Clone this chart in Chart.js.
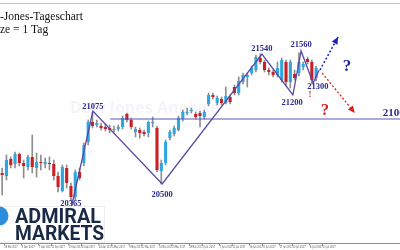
<!DOCTYPE html>
<html><head><meta charset="utf-8">
<script src="https://cdn.jsdelivr.net/npm/chart.js@4.4.1/dist/chart.umd.min.js"></script>
<style>html,body{margin:0;padding:0;background:#fff;overflow:hidden}canvas{display:block}</style>
</head><body>
<canvas id="c" width="400" height="250"></canvas>
<script>
const categories = [
"27 Mar 2017","28 Mar 2017","29 Mar 2017","30 Mar 2017","31 Mar 2017",
"3 Apr 2017","4 Apr 2017","5 Apr 2017","6 Apr 2017","7 Apr 2017",
"10 Apr 2017","11 Apr 2017","12 Apr 2017","13 Apr 2017",
"17 Apr 2017","18 Apr 2017","19 Apr 2017","20 Apr 2017","21 Apr 2017",
"24 Apr 2017","25 Apr 2017","26 Apr 2017","27 Apr 2017","28 Apr 2017",
"1 May 2017","2 May 2017","3 May 2017","4 May 2017","5 May 2017",
"8 May 2017","9 May 2017","10 May 2017","11 May 2017","12 May 2017",
"15 May 2017","16 May 2017","17 May 2017","18 May 2017","19 May 2017",
"22 May 2017","23 May 2017","24 May 2017","25 May 2017","26 May 2017",
"29 May 2017","30 May 2017","31 May 2017","1 Jun 2017","2 Jun 2017",
"5 Jun 2017","6 Jun 2017","7 Jun 2017","8 Jun 2017","9 Jun 2017",
"12 Jun 2017","13 Jun 2017","14 Jun 2017","15 Jun 2017","16 Jun 2017",
"19 Jun 2017","20 Jun 2017","21 Jun 2017","22 Jun 2017","23 Jun 2017",
"26 Jun 2017","27 Jun 2017","28 Jun 2017","29 Jun 2017","30 Jun 2017",
"3 Jul 2017","4 Jul 2017","5 Jul 2017","6 Jul 2017","7 Jul 2017",
"10 Jul 2017","11 Jul 2017","12 Jul 2017","13 Jul 2017","14 Jul 2017",
"17 Jul 2017","18 Jul 2017","19 Jul 2017","20 Jul 2017","21 Jul 2017",
"24 Jul 2017","25 Jul 2017","26 Jul 2017","27 Jul 2017","28 Jul 2017",
"31 Jul 2017","1 Aug 2017","2 Aug 2017","3 Aug 2017"];

const opens = [20588,20564,20700,20660,20740,20668,20636,20716,20628,20676,
20660,20668,20660,20564,20444,20628,20484,20396,20596,20668,
20836,20996,20972,20964,20956,20948,20932,20940,20956,21060,
21012,20916,20932,20916,20908,20988,20948,20604,20668,20868,
20900,20932,21020,21068,21084,21060,21068,21036,21140,21212,
21148,21180,21148,21196,21276,21228,21316,21356,21388,21412,
21508,21476,21412,21396,21372,21332,21476,21316,21380,21388,
21436,21500,21476,21348];
const highs = [20628,20732,20716,20756,20748,20692,20732,20892,20748,20732,
20708,20716,20692,20596,20652,20652,20508,20612,20628,20828,
21012,21075,21012,20988,20980,20972,20964,20972,21044,21068,
21028,20956,20948,20932,21004,21036,20964,20692,20852,20932,
20964,21044,21092,21108,21108,21076,21084,21092,21228,21228,
21204,21196,21276,21212,21292,21356,21388,21388,21444,21532,
21540,21492,21428,21412,21476,21508,21492,21492,21412,21550,
21476,21516,21492,21444];
const lows = [20412,20532,20628,20628,20644,20548,20612,20588,20556,20612,
20628,20612,20532,20436,20436,20468,20365,20372,20532,20644,
20812,20948,20956,20932,20924,20908,20916,20924,20940,20996,
20940,20876,20868,20884,20876,20956,20596,20500,20652,20852,
20884,20924,21004,21052,21068,21020,20956,21020,21124,21180,
21132,21132,21140,21140,21212,21212,21300,21276,21372,21396,
21460,21396,21372,21356,21356,21316,21284,21268,21332,21364,
21412,21460,21300,21324];
const closes = [20572,20692,20652,20740,20668,20644,20716,20636,20676,20668,
20676,20660,20564,20476,20636,20508,20396,20596,20548,20812,
20996,20964,20988,20948,20940,20932,20940,20956,21028,21012,
20956,20940,20908,20900,20996,20996,20612,20668,20836,20916,
20948,21028,21076,21076,21092,21036,21044,21076,21212,21196,
21188,21148,21204,21156,21228,21324,21372,21372,21428,21516,
21476,21412,21396,21372,21428,21492,21316,21476,21348,21476,
21460,21476,21332,21428];

const tickIndex = [1,5,9,12,16,19,23,26,30,33,37,40,44,47,51,54,58,61,65,68,72,75];

// annotation lines (x in category-index units)
const zigX = [16.2, 21.1, 37.2, 60.4, 67.6, 69.5, 72.3, 73.7];
const zigY = [20332, 21084, 20500, 21540, 21212, 21564, 21308, 21412];
const levelX = [25.1, 92.5];
const levelY = [21020, 21020];
const upArrowX = [73.9, 78.1];
const upArrowY = [21412, 21676];
const downArrowX = [74.4, 82.0];
const downArrowY = [21388, 21068];

const labelText = ["21075","20500","20365","21540","21560","21200","21300"];
const labelX = [21.1, 37.2, 16.0, 60.4, 69.5, 67.4, 73.4];
const labelY = [21116, 20412, 20340, 21580, 21612, 21148, 21276];

const UP = '#2ea6de', DOWN = '#c81e24', WICK = '#8e8e8e';
const pts = (xs, ys) => xs.map((x, i) => ({x: x, y: ys[i]}));

const decor = {
  id: 'decor',
  beforeDatasetsDraw(chart) {
    const ctx = chart.ctx;
    ctx.save();
    ctx.fillStyle = 'rgba(200,200,222,0.18)';
    ctx.font = 'bold 16px "Open Sans", sans-serif';
    ctx.textBaseline = 'alphabetic';
    ctx.fillText('Dow Jones Analyse', 70, 113);
    ctx.restore();
  },
  afterDatasetsDraw(chart) {
    const ctx = chart.ctx;
    const xs = chart.scales.x2, ys = chart.scales.y, xc = chart.scales.x;
    ctx.save();
    chart.data.datasets.forEach((ds, di) => {
      if (!ds.arrowHead) return;
      const meta = chart.getDatasetMeta(di);
      const p1 = meta.data[meta.data.length - 2], p2 = meta.data[meta.data.length - 1];
      const a = Math.atan2(p2.y - p1.y, p2.x - p1.x);
      const L = 7, W = 3.2;
      ctx.fillStyle = ds.borderColor;
      ctx.beginPath();
      ctx.moveTo(p2.x, p2.y);
      ctx.lineTo(p2.x - L * Math.cos(a) + W * Math.sin(a), p2.y - L * Math.sin(a) - W * Math.cos(a));
      ctx.lineTo(p2.x - L * Math.cos(a) - W * Math.sin(a), p2.y - L * Math.sin(a) + W * Math.cos(a));
      ctx.closePath();
      ctx.fill();
    });
    ctx.strokeStyle = '#c4c4c4';
    ctx.lineWidth = 1;
    ctx.beginPath(); ctx.moveTo(0, 3.5); ctx.lineTo(400, 3.5); ctx.stroke();
    // bottom axis line and date labels (positions from the category scale)
    const bottom = Math.round(chart.chartArea.bottom) + 0.5;
    ctx.strokeStyle = '#8c8c8c';
    ctx.beginPath(); ctx.moveTo(0, bottom); ctx.lineTo(400, bottom); ctx.stroke();
    ctx.fillStyle = '#555';
    ctx.font = '4px "DejaVu Sans", sans-serif';
    ctx.textAlign = 'left';
    ctx.textBaseline = 'top';
    tickIndex.forEach(i => {
      const px = xc.getPixelForValue(i);
      ctx.fillText(categories[i], px - 2, bottom + 1.5, 13);
      ctx.fillRect(px - 2.5, bottom + 0.5, 0.7, 1.5);
    });
    // title
    ctx.fillStyle = '#111';
    ctx.textBaseline = 'alphabetic';
    ctx.font = '11.5px "Liberation Serif", serif';
    ctx.fillText('-Jones-Tageschart', 0, 20);
    ctx.fillText('ze = 1 Tag', 0, 33);
    // logo
    ctx.fillStyle = '#fff';
    ctx.fillRect(0, 206, 105, 36);
    ctx.strokeStyle = '#ededed';
    ctx.strokeRect(-0.5, 206.5, 105, 36);
    ctx.fillStyle = '#2b8ddb';
    ctx.beginPath(); ctx.arc(-1, 216, 9.5, 0, Math.PI * 2); ctx.fill();
    ctx.fillStyle = '#1a2946';
    ctx.font = 'bold 21px Roboto, sans-serif';
    ctx.fillText('ADMIRAL', 15, 222.5, 86);
    ctx.fillText('MARKETS', 15, 240, 89);
    // value labels
    ctx.fillStyle = '#2c2c8e';
    ctx.font = 'bold 8.5px "Liberation Serif", serif';
    ctx.textAlign = 'center';
    ctx.textBaseline = 'middle';
    labelText.forEach((t, i) => {
      ctx.fillText(t, xs.getPixelForValue(labelX[i]), ys.getPixelForValue(labelY[i]));
    });
    ctx.font = 'bold 11px "Liberation Serif", serif';
    ctx.textAlign = 'left';
    ctx.fillText('21000', xs.getPixelForValue(88.5), ys.getPixelForValue(21068));
    ctx.textAlign = 'center';
    ctx.font = 'bold 17px "Liberation Serif", serif';
    ctx.fillStyle = '#1c1ca8';
    ctx.fillText('?', 347, 67);
    ctx.fillStyle = '#d42222';
    ctx.font = 'bold 16px "Liberation Serif", serif';
    ctx.fillText('?', 325, 111);
    ctx.font = 'bold 9px "Liberation Serif", serif';
    ctx.fillText('!', 310, 95);
    ctx.restore();
  }
};

new Chart(document.getElementById('c'), {
  type: 'bar',
  data: {
    labels: categories,
    datasets: [
      {
        type: 'bar', label: 'wick', order: 6, grouped: false,
        data: lows.map((l, i) => [l, highs[i]]),
        backgroundColor: WICK, barThickness: 1, xAxisID: 'x', yAxisID: 'y'
      },
      {
        type: 'bar', label: 'body', order: 5, grouped: false,
        data: opens.map((o, i) => [o, closes[i]]),
        backgroundColor: opens.map((o, i) => closes[i] >= o ? UP : DOWN),
        barPercentage: 0.72, categoryPercentage: 1, xAxisID: 'x', yAxisID: 'y'
      },
      {
        type: 'line', label: 'level', order: 4, data: pts(levelX, levelY),
        borderColor: '#5858b6', borderWidth: 1, pointRadius: 0, xAxisID: 'x2', yAxisID: 'y'
      },
      {
        type: 'line', label: 'zigzag', order: 3, data: pts(zigX, zigY),
        borderColor: '#5a48a6', borderWidth: 1.3, pointRadius: 0, tension: 0, xAxisID: 'x2', yAxisID: 'y'
      },
      {
        type: 'line', label: 'up', order: 2, data: pts(upArrowX, upArrowY), arrowHead: true,
        borderColor: '#1c22b4', borderWidth: 1.5, borderDash: [2, 2], pointRadius: 0, xAxisID: 'x2', yAxisID: 'y'
      },
      {
        type: 'line', label: 'down', order: 1, data: pts(downArrowX, downArrowY), arrowHead: true,
        borderColor: '#d62424', borderWidth: 1.3, borderDash: [2, 2], pointRadius: 0, xAxisID: 'x2', yAxisID: 'y'
      }
    ]
  },
  options: {
    responsive: false, animation: false, devicePixelRatio: 1,
    layout: { padding: { bottom: 7 } },
    plugins: { legend: { display: false }, tooltip: { enabled: false }, title: { display: false } },
    scales: {
      x: {
        type: 'category', offset: true, display: false
      },
      x2: { type: 'linear', min: -0.5, max: 92.5, offset: false, display: false, grid: { offset: false } },
      y: { type: 'linear', min: 20028, max: 21972, display: false }
    }
  },
  plugins: [decor]
});
</script>
</body></html>
